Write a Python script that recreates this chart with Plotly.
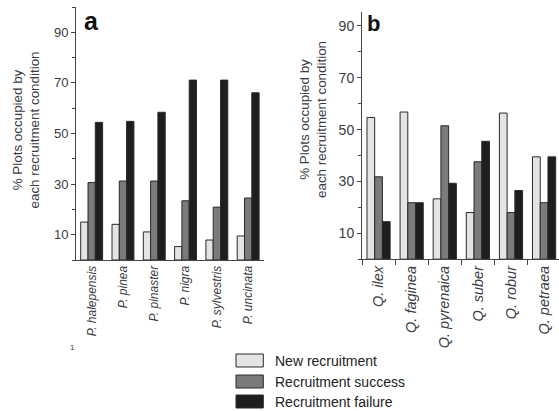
import plotly.graph_objects as go

# ---- data ----
pinus_species = ["P. halepensis", "P. pinea", "P. pinaster", "P. nigra", "P. sylvestris", "P. uncinata"]
pinus_new = [15.0, 14.1, 11.1, 5.3, 7.9, 9.5]
pinus_success = [30.6, 31.2, 31.2, 23.4, 20.9, 24.5]
pinus_failure = [54.4, 54.8, 58.4, 71.1, 71.1, 66.1]

quercus_species = ["Q. ilex", "Q. faginea", "Q. pyrenaica", "Q. suber", "Q. robur", "Q. petraea"]
quercus_new = [54.7, 56.8, 23.3, 18.0, 56.4, 39.5]
quercus_success = [31.8, 21.8, 51.5, 37.6, 18.0, 21.8]
quercus_failure = [14.5, 21.8, 29.3, 45.5, 26.5, 39.5]

series_names = ["New recruitment", "Recruitment success", "Recruitment failure"]
series_colors = ["#e4e4e4", "#7b7b7b", "#1e1e1e"]
y_tick_values = [10, 30, 50, 70, 90]
y_title = "% Plots occupied by<br>each recruitment condition"

W, H = 559, 411
FONT = "Liberation Sans, Arial, sans-serif"
TXT = "#3a3a44"
LINE = "#444444"

def px(x):
    return x / W

def py(y):
    return (H - y) / H

fig = go.Figure()

for name, color, vals in zip(series_names, series_colors, [pinus_new, pinus_success, pinus_failure]):
    fig.add_trace(go.Bar(x=pinus_species, y=vals, name=name, marker=dict(color=color, line=dict(color="#2a2a2a", width=1)),
                         xaxis="x", yaxis="y", showlegend=False))
for name, color, vals in zip(series_names, series_colors, [quercus_new, quercus_success, quercus_failure]):
    fig.add_trace(go.Bar(x=quercus_species, y=vals, name=name, marker=dict(color=color, line=dict(color="#2a2a2a", width=1)),
                         xaxis="x2", yaxis="y2", showlegend=False))

common_y = dict(showline=True, linecolor=LINE, linewidth=1, ticks="outside", ticklen=4, tickcolor=LINE,
                tickvals=y_tick_values, showgrid=False, zeroline=False, automargin=False,
                minor=dict(dtick=10, tick0=0, ticks="outside", ticklen=3, tickcolor=LINE))

fig.update_layout(
    width=W, height=H,
    margin=dict(l=0, r=0, t=0, b=0),
    paper_bgcolor="white", plot_bgcolor="white",
    font=dict(family=FONT, color=TXT),
    barmode="group",
    bargap=0.30,
    showlegend=False,
    xaxis=dict(domain=[px(76), px(263.8)], anchor="y", showline=True, linecolor=LINE, linewidth=1,
               ticks="", tickangle=-90, tickfont=dict(size=12, style="italic", color=TXT),
               showgrid=False, zeroline=False, automargin=False, range=[-0.5, 5.5]),
    yaxis=dict(domain=[py(260), py(7)], anchor="x", range=[0, 100],
               tickfont=dict(size=13, color=TXT), **common_y),
    xaxis2=dict(domain=[px(362), 1.0], anchor="y2", showline=True, linecolor=LINE, linewidth=1,
                ticks="outside", ticklen=5, tickcolor=LINE, tickson="boundaries",
                tickangle=-90, tickfont=dict(size=14.5, style="italic", color=TXT),
                showgrid=False, zeroline=False, automargin=False, range=[-0.5, 5.45]),
    yaxis2=dict(domain=[py(259.2), py(12)], anchor="x2", range=[0, 95.4],
                tickfont=dict(size=14, color=TXT), **common_y),
)

annotations = [
    dict(text=y_title, x=px(25.5), y=py(130), textangle=-90, font=dict(size=13.4, color=TXT)),
    dict(text=y_title, x=px(313), y=py(120), textangle=-90, font=dict(size=13.4, color=TXT)),
    dict(text="<b>a</b>", x=px(82), y=py(37), xanchor="left", yanchor="bottom", font=dict(size=25, color="#111")),
    dict(text="<b>b</b>", x=px(365), y=py(38), xanchor="left", yanchor="bottom", font=dict(size=22, color="#111")),
    dict(text="1", x=px(72), y=py(347), font=dict(size=8, color=TXT)),
]
for a in annotations:
    a.setdefault("xanchor", "center")
    a.setdefault("yanchor", "middle")
    a.update(xref="paper", yref="paper", showarrow=False)
fig.update_layout(annotations=annotations)

# legend (drawn manually to match the box-shaped keys)
row_tops = [354, 375, 395]
for name, color, top in zip(series_names, series_colors, row_tops):
    fig.add_shape(type="rect", xref="paper", yref="paper", x0=px(236), x1=px(263.3), y0=py(top + 13), y1=py(top),
                  fillcolor=color, line=dict(color="#2a2a2a", width=1))
    fig.add_annotation(text=name, xref="paper", yref="paper", x=px(273), y=py(top + 6.5), xanchor="left", yanchor="middle",
                       showarrow=False, font=dict(size=14, color="#222"))

fig.write_html("out.html", config={"displayModeBar": False},
               post_script="document.body.style.margin='0';document.body.style.overflow='hidden';")
